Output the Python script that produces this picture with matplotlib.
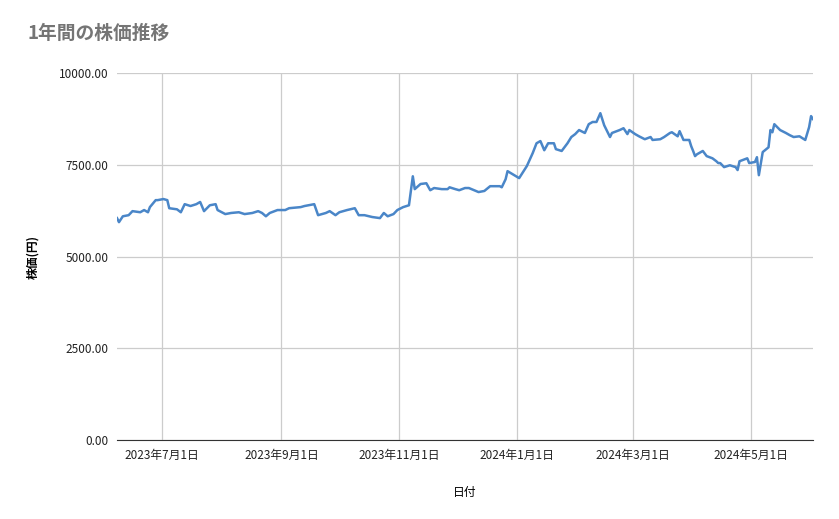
import matplotlib
matplotlib.use("Agg")
import matplotlib.pyplot as plt
import numpy as np
import pandas as pd

plt.rcParams['font.family'] = ['Noto Sans CJK JP', 'DejaVu Sans']

start_date = "2023-06-08"
day_offsets = [0,1,3,6,8,12,14,16,17,20,21,24,26,27,31,33,35,38,41,43,45,48,51,52,56,59,63,66,70,73,75,77,79,83,87,89,95,97,102,104,108,110,113,115,119,123,125,128,132,136,138,140,143,145,148,151,153,154,157,160,162,164,168,171,172,175,177,180,
               182,187,190,193,198,199,201,202,208,212,215,217,219,221,223,226,227,230,233,235,237,239,242,244,246,248,250,252,255,256,260,262,264,265,268,270,273,276,277,281,283,286,287,290,291,293,296,297,298,299,300,303,305,308,310,311,312,314,317,320,321,322,326,327,330,331,332,334,337,338,339,340,343,346,348,350,353,356,358,359,360]
prices = [6050,5940,6100,6130,6240,6210,6270,6210,6350,6540,6540,6570,6540,6320,6290,6210,6430,6380,6430,6490,6240,6400,6430,6270,6160,6190,6210,6160,6190,6240,6190,6100,6190,6270,6270,6320,6350,6380,6430,6130,6190,6240,6130,6210,6270,6320,6130,6130,6080,6050,6190,6100,6160,6270,6350,6400,7190,6840,6980,7000,6810,6870,6840,6840,6890,6840,6810,6870,
          6870,6760,6790,6920,6920,6890,7110,7330,7140,7470,7820,8090,8150,7900,8090,8090,7930,7880,8090,8260,8340,8450,8370,8610,8670,8670,8910,8580,8260,8370,8450,8500,8340,8450,8340,8280,8200,8260,8180,8200,8260,8370,8390,8280,8420,8180,8180,8010,7880,7740,7790,7880,7740,7680,7600,7550,7550,7440,7490,7440,7360,7600,7680,7550,7580,7710,7220,7850,7980,8450,8390,8610,8450,8370,8310,8260,8280,8180,8530,8830,8750]
tick_dates = ["2023-07-01","2023-09-01","2023-11-01","2024-01-01","2024-03-01","2024-05-01"]
tick_labels = ["2023年7月1日","2023年9月1日","2023年11月1日","2024年1月1日","2024年3月1日","2024年5月1日"]
y_ticks = [0, 2500, 5000, 7500, 10000]

dates = pd.Timestamp(start_date) + pd.to_timedelta(day_offsets, unit="D")

fig = plt.figure(figsize=(8.39, 5.19), dpi=100)
ax = fig.add_axes([0.1395, 0.152, 0.8295, 0.707])
ax.plot(dates, prices, color="#4a86c8", lw=1.8)
ax.set_xlim(dates[0], dates[-1])
ax.set_ylim(0, 10000)
ax.set_yticks(y_ticks)
ax.set_yticklabels([f"{v:.2f}" for v in y_ticks])
ax.set_xticks(pd.to_datetime(tick_dates))
ax.set_xticklabels(tick_labels)
ax.grid(True, color="#cccccc", lw=0.9)
ax.set_axisbelow(True)
for s in ["top", "right", "left"]:
    ax.spines[s].set_visible(False)
ax.spines["bottom"].set_color("#333333")
ax.tick_params(length=0, labelsize=8.5, colors="#222222", pad=6)
ax.set_xlabel("日付", fontsize=8.5, labelpad=18)
ax.set_ylabel("株価(円)", fontsize=8.5, fontweight="bold", labelpad=14)
fig.text(0.033, 0.925, "1年間の株価推移", fontsize=13.5, color="#757575", fontweight="bold")
fig.savefig("out.png", dpi=100)
